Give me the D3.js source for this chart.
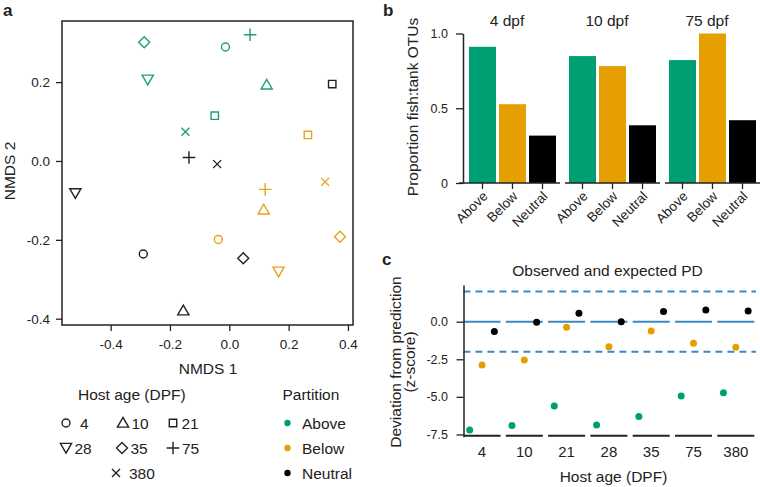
<!DOCTYPE html>
<html><head><meta charset="utf-8">
<script src="https://cdn.jsdelivr.net/npm/d3@7"></script>
<style>
body{margin:0;background:#fff;}
text{font-family:"Liberation Sans",Arial,sans-serif;fill:#222;}
</style></head>
<body>
<svg id="chart" width="760" height="487"></svg>
<script>
// ---------- data ----------
const ages = ["4","10","21","28","35","75","380"];
const partitions = ["Above","Below","Neutral"];
// Panel a: NMDS coordinates, one entry per host age
const nmds1Above   = [-0.013, 0.126, -0.049, -0.275, -0.287, 0.070, -0.148];
const nmds2Above   = [ 0.289, 0.193,  0.115,  0.206,  0.301, 0.320,  0.074];
const nmds1Below   = [-0.037, 0.116,  0.265,  0.166,  0.373, 0.121,  0.323];
const nmds2Below   = [-0.199,-0.124,  0.066, -0.281, -0.192,-0.072, -0.053];
const nmds1Neutral = [-0.290,-0.155,  0.347, -0.519,  0.047,-0.136, -0.041];
const nmds2Neutral = [-0.236,-0.380,  0.195, -0.082, -0.247, 0.009, -0.008];
const nmdsXTicks = [-0.4,-0.2,0,0.2,0.4];
const nmdsYTicks = [-0.4,-0.2,0,0.2];
// Panel b
const facets = ["4 dpf","10 dpf","75 dpf"];
const propAbove   = [0.911, 0.849, 0.822];
const propBelow   = [0.527, 0.782, 1.000];
const propNeutral = [0.317, 0.386, 0.420];
const propTicks = [0, 0.5, 1.0];
// Panel c
const zAbove   = [-7.20, -6.91, -5.60, -6.87, -6.31, -4.94, -4.72];
const zBelow   = [-2.88, -2.55, -0.37, -1.66, -0.62, -1.44, -1.70];
const zNeutral = [-0.66, -0.04,  0.56,  0.00,  0.67,  0.78,  0.71];
const zTicks = [0, -2.5, -5, -7.5];
const zThresholds = [2, -2];

const colors = {Above:"#009E73", Below:"#E69F00", Neutral:"#000000"};
const markerColors = {Above:"#1f9e78", Below:"#e8a21c", Neutral:"#222222"};

const svg = d3.select("#chart");
const hy = v => (v < 0 ? "-" : "") + Math.abs(v).toFixed(1);
const FONT = "Liberation Sans, Arial, sans-serif";

// ---------- symbols ----------
const shapes = {
  "4":  g => g.append("circle").attr("r", 4),
  "10": g => g.append("path").attr("d","M0,-5.6L5.6,4.1L-5.6,4.1Z"),
  "21": g => g.append("path").attr("d","M-3.7,-3.7H3.7V3.7H-3.7Z"),
  "28": g => g.append("path").attr("d","M0,5.1L5.6,-4.6L-5.6,-4.6Z"),
  "35": g => g.append("path").attr("d","M0,-5.5L5.5,0L0,5.5L-5.5,0Z"),
  "75": g => g.append("path").attr("d","M-6.3,0H6.3M0,-6.3V6.3"),
  "380":g => g.append("path").attr("d","M-4,-4L4,4M-4,4L4,-4")
};
function drawMarker(parent, age, color, x, y){
  const g = parent.append("g").attr("transform",`translate(${x},${y})`);
  shapes[age](g);
  g.selectAll("*").attr("fill","none").attr("stroke",color).attr("stroke-width",1.4);
}

// ---------- Panel a ----------
const ax = d3.scaleLinear().domain([-0.564, 0.417]).range([62, 353]);
const ay = d3.scaleLinear().domain([-0.416, 0.355]).range([325, 21]);
const pa = svg.append("g");
pa.append("rect").attr("x",ax.range()[0]).attr("y",ay.range()[1])
  .attr("width",ax.range()[1]-ax.range()[0]).attr("height",ay.range()[0]-ay.range()[1])
  .attr("fill","none").attr("stroke","#222").attr("stroke-width",1.5);
const axB = pa.append("g").attr("transform","translate(0,325)")
  .call(d3.axisBottom(ax).tickValues(nmdsXTicks).tickSize(6).tickFormat(hy));
const axL = pa.append("g").attr("transform","translate(62,0)")
  .call(d3.axisLeft(ay).tickValues(nmdsYTicks).tickSize(6).tickFormat(hy));
[axB, axL].forEach(a=>{
  a.select(".domain").remove();
  a.selectAll("line").attr("stroke","#222").attr("stroke-width",1.3);
  a.selectAll("text").style("font-size","13.5px").style("font-family",FONT).attr("fill","#222");
});
axB.selectAll("text").attr("dy",null).attr("y",23.5);
axL.selectAll("text").attr("x",-12).attr("dy","0.35em");
pa.append("text").attr("x",208).attr("y",374).attr("text-anchor","middle").style("font-size","15.5px").text("NMDS 1");
pa.append("text").attr("transform","translate(14.5,171) rotate(-90)").attr("text-anchor","middle").style("font-size","15.5px").text("NMDS 2");

const nmdsSets = {Above:[nmds1Above,nmds2Above], Below:[nmds1Below,nmds2Below], Neutral:[nmds1Neutral,nmds2Neutral]};
partitions.forEach(p=>{
  ages.forEach((a,i)=>{
    drawMarker(pa, a, markerColors[p], ax(nmdsSets[p][0][i]), ay(nmdsSets[p][1][i]));
  });
});

// legend: host age
const lg = svg.append("g");
lg.append("text").attr("x",78).attr("y",400).style("font-size","15.5px").text("Host age (DPF)");
const legPos = {"4":[66,423],"10":[123,423],"21":[173,423],"28":[66,448],"35":[122,448],"75":[173,448],"380":[116,473]};
ages.forEach(a=>{
  const [x,y] = legPos[a];
  drawMarker(lg, a, "#222", x, y);
  lg.append("text").attr("x",x+(a==="75"?9:a==="380"?13:a.length>1?8.5:14)).attr("y",y+6)
    .style("font-size","15.5px").text(a);
});
lg.append("text").attr("x",282.5).attr("y",400).style("font-size","15.5px").text("Partition");
partitions.forEach((p,i)=>{
  const y = 423 + i*25;
  lg.append("circle").attr("cx",287.5).attr("cy",y).attr("r",3.2).attr("fill",colors[p]);
  lg.append("text").attr("x",302).attr("y",y+6).style("font-size","15.5px").text(p);
});

// ---------- Panel b ----------
const by = d3.scaleLinear().domain([0,1]).range([183, 33.5]);
const fx = d3.scaleBand().domain(facets).range([466, 766]);
const bx = d3.scaleBand().domain(partitions).range([0, 93]).paddingInner(0.1).paddingOuter(0.1);
const pb = svg.append("g");
const propSets = {Above:propAbove, Below:propBelow, Neutral:propNeutral};
facets.forEach((f,fi)=>{
  const g = pb.append("g").attr("transform",`translate(${fx(f)},0)`);
  partitions.forEach(p=>{
    g.append("rect").attr("x",bx(p)).attr("width",bx.bandwidth())
      .attr("y",by(propSets[p][fi])).attr("height",by(0)-by(propSets[p][fi]))
      .attr("fill",colors[p]);
  });
  const xa = g.append("g").attr("transform",`translate(0,${by(0)})`)
    .call(d3.axisBottom(bx).tickSize(6).tickSizeOuter(0));
  xa.select(".domain").attr("d", fi===0 ? "M-7,0H94" : "M-1,0H94").attr("stroke","#222").attr("stroke-width",1.5);
  xa.selectAll("line").attr("stroke","#222").attr("stroke-width",1.3);
  xa.selectAll("text").attr("y",null).attr("dy",null)
    .attr("transform","translate(6,14) rotate(-45)").attr("text-anchor","end")
    .style("font-size","13.5px").style("font-family",FONT).attr("fill","#222");
  g.append("text").attr("x",bx.range()[1]/2-5.5).attr("y",26).attr("text-anchor","middle")
    .style("font-size","15.5px").text(f);
});
const bya = pb.append("g").attr("transform","translate(463,0)")
  .call(d3.axisLeft(by).tickValues(propTicks).tickSize(7).tickSizeOuter(0)
    .tickFormat(v => v===0 ? "0" : v.toFixed(1)));
bya.select(".domain").attr("stroke","#222").attr("stroke-width",1.5);
bya.selectAll("line").attr("stroke","#222").attr("stroke-width",1.3);
bya.selectAll("text").attr("x",-15).style("font-size","12.5px").style("font-family",FONT).attr("fill","#222");
pb.append("text").attr("transform","translate(418,107) rotate(-90)").attr("text-anchor","middle")
  .style("font-size","15.5px").text("Proportion fish:tank OTUs");

// ---------- Panel c ----------
const cy = d3.scaleLinear().domain([-7.65, 2.44]).range([436.7, 285]);
const cx = d3.scaleBand().domain(ages).range([460.85, 756.95]).paddingInner(0.125).paddingOuter(0.0625);
const cp = d3.scalePoint().domain(partitions).range([0, cx.bandwidth()]).padding(0.5);
const pc = svg.append("g");
const blue = "#3b88c4";
zThresholds.forEach(t=>{
  pc.append("line").attr("x1",cx.range()[0]+2.6).attr("x2",756).attr("y1",cy(t)).attr("y2",cy(t))
    .attr("stroke",blue).attr("stroke-width",2).attr("stroke-dasharray","7,5");
});
ages.forEach(a=>{
  pc.append("line").attr("x1",cx(a)).attr("x2",cx(a)+cx.bandwidth()).attr("y1",cy(0)).attr("y2",cy(0))
    .attr("stroke",blue).attr("stroke-width",2);
});
const cxa = pc.append("g").attr("transform","translate(0,435.7)")
  .call(d3.axisBottom(cx).tickSize(0).tickSizeOuter(0));
cxa.select(".domain").remove();
ages.forEach(a=>{
  pc.append("line").attr("x1",cx(a)).attr("x2",cx(a)+cx.bandwidth()).attr("y1",435.7).attr("y2",435.7)
    .attr("stroke","#222").attr("stroke-width",2);
});
cxa.selectAll("text").attr("y",21).attr("dy",null).style("font-size","15px")
  .style("font-family",FONT).attr("fill","#222");
const cya = pc.append("g").attr("transform","translate(463.5,0)")
  .call(d3.axisLeft(cy).tickValues(zTicks).tickSize(7).tickSizeOuter(0).tickFormat(hy));
cya.select(".domain").attr("stroke","#222").attr("stroke-width",1.5);
cya.selectAll("line").attr("stroke","#222").attr("stroke-width",1.3);
cya.selectAll("text").attr("x",-15.5).style("font-size","12.5px").style("font-family",FONT).attr("fill","#222");
const zSets = {Above:zAbove, Below:zBelow, Neutral:zNeutral};
partitions.forEach(p=>{
  ages.forEach((a,i)=>{
    pc.append("circle").attr("cx",cx(a)+cp(p)).attr("cy",cy(zSets[p][i])).attr("r",3.5).attr("fill",colors[p]);
  });
});
pc.append("text").attr("x",607.5).attr("y",276).attr("text-anchor","middle").style("font-size","15.5px").text("Observed and expected PD");
pc.append("text").attr("x",613.5).attr("y",482).attr("text-anchor","middle").style("font-size","15.5px").text("Host age (DPF)");
pc.append("text").attr("transform","translate(401,362) rotate(-90)").attr("text-anchor","middle").style("font-size","15.5px").text("Deviation from prediction");
pc.append("text").attr("transform","translate(415,362) rotate(-90)").attr("text-anchor","middle").style("font-size","15.5px").text("(z-score)");

// panel letters
[["a",3,16],["b",383,16],["c",382,265]].forEach(([t,x,y])=>{
  svg.append("text").attr("x",x).attr("y",y).style("font-size","17px").style("font-weight","bold").attr("fill","#111").text(t);
});
</script>
</body></html>
